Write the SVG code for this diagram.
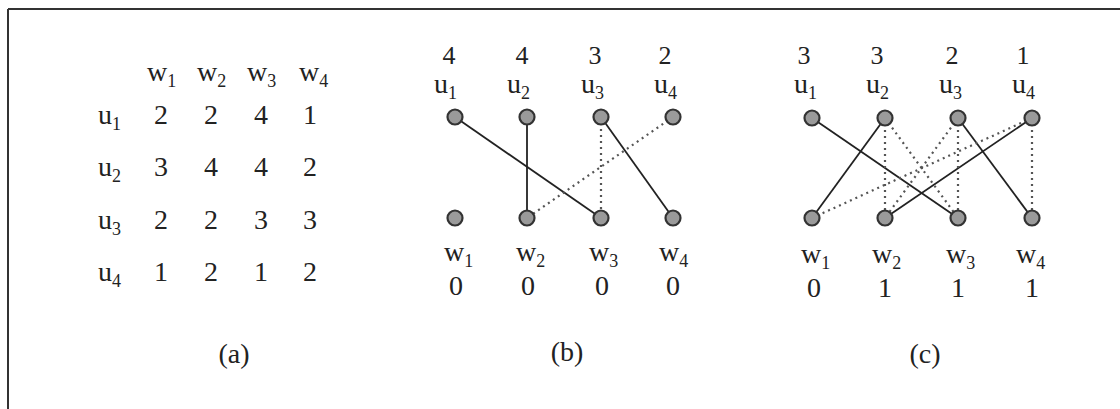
<svg xmlns="http://www.w3.org/2000/svg" width="1120" height="409" viewBox="0 0 1120 409">
<style>
text{font-family:"Liberation Serif","Times New Roman",serif;font-size:28px;fill:#222}
.s{font-size:18px}
.t{font-size:26px}
.c{text-anchor:middle}
.node{fill:#9a9a9a;stroke:#333;stroke-width:2.2}
.solid{stroke:#222;stroke-width:1.8;fill:none}
.dot{stroke:#555;stroke-width:2.2;stroke-dasharray:2 4;fill:none}
</style>
<rect width="1120" height="409" fill="#fff"/>
<g id="frame">
<line x1="8" y1="9" x2="1120" y2="9" stroke="#333" stroke-width="2"/>
<line x1="8" y1="9" x2="8" y2="409" stroke="#333" stroke-width="2"/>
</g>
<g id="panel-a">
<text x="147" y="81">w<tspan class="s" dy="6">1</tspan></text>
<text x="197" y="81">w<tspan class="s" dy="6">2</tspan></text>
<text x="247" y="81">w<tspan class="s" dy="6">3</tspan></text>
<text x="299" y="81">w<tspan class="s" dy="6">4</tspan></text>
<text x="98" y="124">u<tspan class="s" dy="6">1</tspan></text>
<text x="98" y="176">u<tspan class="s" dy="6">2</tspan></text>
<text x="98" y="229">u<tspan class="s" dy="6">3</tspan></text>
<text x="98" y="281">u<tspan class="s" dy="6">4</tspan></text>
<text x="161" y="124" class="c">2</text><text x="211" y="124" class="c">2</text><text x="261" y="124" class="c">4</text><text x="310" y="124" class="c">1</text>
<text x="161" y="176" class="c">3</text><text x="211" y="176" class="c">4</text><text x="261" y="176" class="c">4</text><text x="310" y="176" class="c">2</text>
<text x="161" y="229" class="c">2</text><text x="211" y="229" class="c">2</text><text x="261" y="229" class="c">3</text><text x="310" y="229" class="c">3</text>
<text x="161" y="281" class="c">1</text><text x="211" y="281" class="c">2</text><text x="261" y="281" class="c">1</text><text x="310" y="281" class="c">2</text>
<text x="234" y="363" class="c">(a)</text>
</g>
<g id="connectors-b">
<line class="solid" x1="455" y1="117" x2="601" y2="218"/>
<line class="solid" x1="527" y1="117" x2="527" y2="218"/>
<line class="solid" x1="601" y1="117" x2="673" y2="218"/>
<line class="dot" x1="601" y1="117" x2="601" y2="218"/>
<line class="dot" x1="673" y1="117" x2="527" y2="218"/>
</g>
<g id="panel-b">
<text x="449" y="64" class="c t">4</text><text x="522" y="64" class="c t">4</text><text x="595" y="64" class="c t">3</text><text x="665" y="64" class="c t">2</text>
<text x="434" y="93">u<tspan class="s" dy="6">1</tspan></text>
<text x="507" y="93">u<tspan class="s" dy="6">2</tspan></text>
<text x="581" y="93">u<tspan class="s" dy="6">3</tspan></text>
<text x="654" y="93">u<tspan class="s" dy="6">4</tspan></text>
<g id="b-u1"><circle class="node" cx="455" cy="117" r="7.5"/></g>
<g id="b-u2"><circle class="node" cx="527" cy="117" r="7.5"/></g>
<g id="b-u3"><circle class="node" cx="601" cy="117" r="7.5"/></g>
<g id="b-u4"><circle class="node" cx="673" cy="117" r="7.5"/></g>
<g id="b-w1"><circle class="node" cx="455" cy="218" r="7.5"/></g>
<g id="b-w2"><circle class="node" cx="527" cy="218" r="7.5"/></g>
<g id="b-w3"><circle class="node" cx="601" cy="218" r="7.5"/></g>
<g id="b-w4"><circle class="node" cx="673" cy="218" r="7.5"/></g>
<text x="444" y="261">w<tspan class="s" dy="6">1</tspan></text>
<text x="516" y="261">w<tspan class="s" dy="6">2</tspan></text>
<text x="589" y="261">w<tspan class="s" dy="6">3</tspan></text>
<text x="659" y="261">w<tspan class="s" dy="6">4</tspan></text>
<text x="456" y="295" class="c">0</text><text x="528" y="295" class="c">0</text><text x="602" y="295" class="c">0</text><text x="673" y="295" class="c">0</text>
<text x="567" y="361" class="c">(b)</text>
</g>
<g id="connectors-c">
<line class="solid" x1="812" y1="118" x2="958" y2="218"/>
<line class="solid" x1="885" y1="118" x2="812" y2="218"/>
<line class="solid" x1="958" y1="118" x2="1032" y2="218"/>
<line class="solid" x1="1032" y1="118" x2="885" y2="218"/>
<line class="dot" x1="885" y1="118" x2="885" y2="218"/>
<line class="dot" x1="885" y1="118" x2="958" y2="218"/>
<line class="dot" x1="958" y1="118" x2="885" y2="218"/>
<line class="dot" x1="958" y1="118" x2="958" y2="218"/>
<line class="dot" x1="1032" y1="118" x2="812" y2="218"/>
<line class="dot" x1="1032" y1="118" x2="1032" y2="218"/>
</g>
<g id="panel-c">
<text x="804" y="64" class="c t">3</text><text x="877" y="64" class="c t">3</text><text x="952" y="64" class="c t">2</text><text x="1023" y="64" class="c t">1</text>
<text x="794" y="93">u<tspan class="s" dy="6">1</tspan></text>
<text x="866" y="93">u<tspan class="s" dy="6">2</tspan></text>
<text x="939" y="93">u<tspan class="s" dy="6">3</tspan></text>
<text x="1012" y="93">u<tspan class="s" dy="6">4</tspan></text>
<g id="c-u1"><circle class="node" cx="812" cy="118" r="7.5"/></g>
<g id="c-u2"><circle class="node" cx="885" cy="118" r="7.5"/></g>
<g id="c-u3"><circle class="node" cx="958" cy="118" r="7.5"/></g>
<g id="c-u4"><circle class="node" cx="1032" cy="118" r="7.5"/></g>
<g id="c-w1"><circle class="node" cx="812" cy="218" r="7.5"/></g>
<g id="c-w2"><circle class="node" cx="885" cy="218" r="7.5"/></g>
<g id="c-w3"><circle class="node" cx="958" cy="218" r="7.5"/></g>
<g id="c-w4"><circle class="node" cx="1032" cy="218" r="7.5"/></g>
<text x="801" y="263">w<tspan class="s" dy="6">1</tspan></text>
<text x="872" y="263">w<tspan class="s" dy="6">2</tspan></text>
<text x="946" y="263">w<tspan class="s" dy="6">3</tspan></text>
<text x="1016" y="263">w<tspan class="s" dy="6">4</tspan></text>
<text x="814" y="297" class="c">0</text><text x="885" y="297" class="c">1</text><text x="958" y="297" class="c">1</text><text x="1032" y="297" class="c">1</text>
<text x="925" y="363" class="c">(c)</text>
</g>
</svg>
